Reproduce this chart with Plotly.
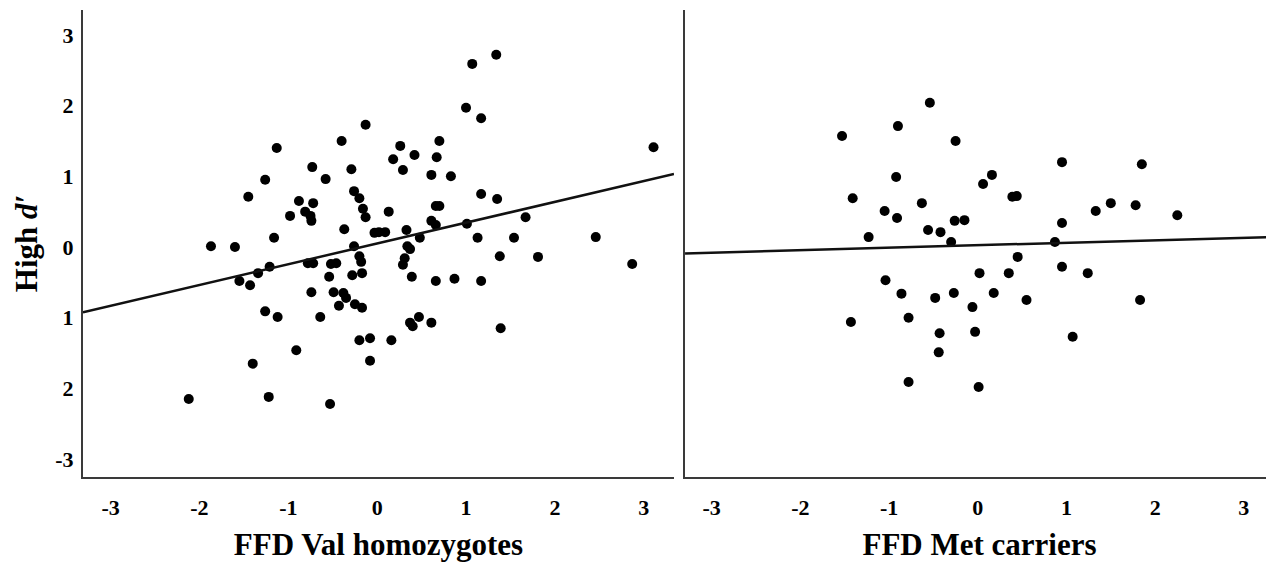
import plotly.graph_objects as go

# ---------------- data ----------------
val_x = [1.34, 1.07, 1.00, 1.17, -0.13, 3.11, -1.13, -0.40, 0.26, 0.42,
         0.70, 0.67, 0.18, 0.29, -0.29, -0.73, -0.58, -1.26, 0.61, 0.83,
         -1.45, -0.26, -0.20, 1.17, 1.35, 0.66, 0.70, -0.88, -0.72, -0.98,
         -0.81, -0.75, -0.74, -0.16, -0.13, 0.13, 1.67, 0.61, 0.66, 1.01,
         -0.37, -1.16, -0.03, 0.02, 0.09, 0.33, 0.48, 1.13, 1.54, 2.46,
         -1.87, -1.60, -0.26, 0.34, 0.37, -0.20, 0.31, 1.38, 1.81, 2.87,
         -1.55, -1.43, -1.34, -1.21, -0.78, -0.72, -0.52, -0.46, -0.18, -0.54,
         -0.28, -0.17, -0.74, -0.49, -0.38, -0.35, -0.43, -0.25, -0.17, 0.29,
         0.39, 0.66, 0.87, 1.17, -1.26, -1.12, -0.64, 0.37, 0.40, 0.47,
         0.61, 1.39, -0.20, -0.08, 0.16, -0.91, -0.08, -1.40, -2.12, -1.22,
         -0.53]
val_y = [2.72, 2.59, 1.97, 1.82, 1.73, 1.41, 1.40, 1.50, 1.43, 1.30,
         1.50, 1.27, 1.24, 1.09, 1.10, 1.13, 0.96, 0.95, 1.02, 1.00,
         0.71, 0.79, 0.69, 0.75, 0.68, 0.58, 0.58, 0.65, 0.62, 0.44,
         0.50, 0.44, 0.37, 0.54, 0.42, 0.50, 0.42, 0.37, 0.31, 0.33,
         0.25, 0.13, 0.20, 0.21, 0.21, 0.24, 0.13, 0.13, 0.13, 0.14,
         0.01, 0.00, 0.01, 0.01, -0.03, -0.13, -0.16, -0.13, -0.14, -0.24,
         -0.48, -0.54, -0.37, -0.28, -0.23, -0.23, -0.24, -0.23, -0.21, -0.42,
         -0.40, -0.37, -0.64, -0.64, -0.65, -0.72, -0.83, -0.81, -0.86, -0.25,
         -0.42, -0.48, -0.45, -0.48, -0.91, -0.99, -0.99, -1.07, -1.12, -0.99,
         -1.07, -1.15, -1.32, -1.29, -1.32, -1.46, -1.61, -1.65, -2.15, -2.12,
         -2.22]

met_x = [-1.53, -0.90, -0.54, -0.25, 0.95, 1.85, -0.92, 0.16, 0.06, -1.41,
         0.39, 0.44, -0.63, -1.05, -0.91, -0.26, -0.15, 1.33, 1.50, 1.78,
         2.25, 0.95, -0.56, -0.42, -1.23, -0.30, 0.87, 0.45, 0.95, 0.02,
         0.35, 1.24, -1.04, -0.86, -0.48, -0.27, 0.18, -0.06, 0.55, 1.83,
         -1.43, -0.78, -0.43, -0.03, 1.07, -0.44, -0.78, 0.01]
met_y = [1.57, 1.71, 2.04, 1.50, 1.20, 1.17, 0.99, 1.02, 0.89, 0.69,
         0.71, 0.72, 0.62, 0.51, 0.41, 0.37, 0.38, 0.51, 0.62, 0.59,
         0.45, 0.34, 0.24, 0.21, 0.14, 0.07, 0.07, -0.14, -0.28, -0.37,
         -0.37, -0.37, -0.47, -0.66, -0.72, -0.65, -0.65, -0.85, -0.75, -0.75,
         -1.06, -1.00, -1.22, -1.20, -1.27, -1.49, -1.91, -1.98]

# fitted lines (intercept, slope) as drawn in the reference
val_fit = (0.05, 0.294)
met_fit = (0.025, 0.035)

tick_vals = [-3, -2, -1, 0, 1, 2, 3]
x_tick_text = ["-3", "-2", "-1", "0", "1", "2", "3"]
y_tick_text = ["-3", "2", "1", "0", "1", "2", "3"]

x_title_left = "FFD Val homozygotes"
x_title_right = "FFD Met carriers"
y_title = "High <i>d′</i>"

# ---------------- layout constants ----------------
x_range_left = [-3.31, 3.34]
x_range_right = [-3.30, 3.34]
y_range = [-3.253, 3.352]
FONT = "Liberation Serif"
AX_COLOR = "#3a3a3a"

fig = go.Figure()

def add_panel(xs, ys, fit, xr, xref, yref):
    fig.add_trace(go.Scatter(
        x=xs, y=ys, mode="markers", xaxis=xref, yaxis=yref,
        marker=dict(color="black", size=10, line=dict(width=0)),
        showlegend=False, hoverinfo="x+y"))
    b0, b1 = fit
    lx = [xr[0], xr[1]]
    ly = [b0 + b1 * v for v in lx]
    fig.add_trace(go.Scatter(
        x=lx, y=ly, mode="lines", xaxis=xref, yaxis=yref,
        line=dict(color="#111111", width=2.5),
        showlegend=False, hoverinfo="skip"))

add_panel(val_x, val_y, val_fit, x_range_left, "x", "y")
add_panel(met_x, met_y, met_fit, x_range_right, "x2", "y2")

tick_font = dict(family=FONT, size=22, color="black", weight="bold")
title_font = dict(family=FONT, size=31, color="black", weight="bold")

common_x = dict(
    tickvals=tick_vals, ticktext=x_tick_text, tickfont=tick_font,
    showgrid=False, zeroline=False, showline=True, linecolor=AX_COLOR,
    linewidth=2, ticks="", ticklabelstandoff=10, fixedrange=True)
common_y = dict(
    range=y_range, tickvals=tick_vals, ticktext=y_tick_text, tickfont=tick_font,
    showgrid=False, zeroline=False, showline=True, linecolor=AX_COLOR,
    linewidth=2, ticks="", fixedrange=True)

# the page body adds an 8px offset; size the figure so it fits the window
fig.update_layout(
    width=1266, height=560,
    margin=dict(l=75, r=0, t=2, b=91),
    paper_bgcolor="white", plot_bgcolor="white",
    xaxis=dict(domain=[0, 0.4962], range=x_range_left,
               title=dict(text=x_title_left, font=title_font, standoff=14),
               anchor="y", **common_x),
    xaxis2=dict(domain=[0.5055, 1], range=x_range_right,
                title=dict(text=x_title_right, font=title_font, standoff=14),
                anchor="y2", **common_x),
    yaxis=dict(domain=[0, 1], anchor="x", ticklabelstandoff=3,
               title=dict(text=y_title, font=title_font, standoff=8),
               **common_y),
    yaxis2=dict(domain=[0, 1], anchor="x2", showticklabels=False, **common_y),
)

fig.write_html("out.html")
